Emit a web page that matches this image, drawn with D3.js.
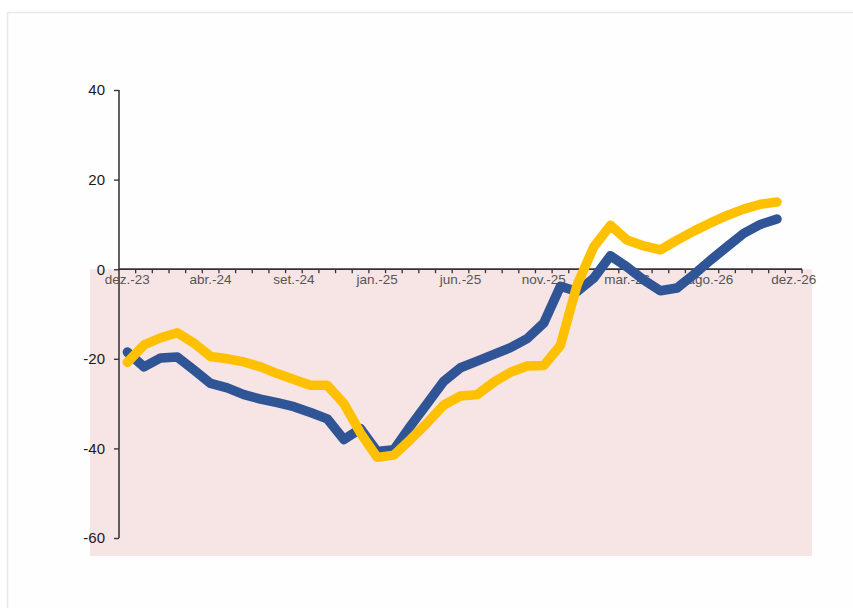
<!DOCTYPE html>
<html>
<head>
<meta charset="utf-8">
<script src="https://cdn.jsdelivr.net/npm/d3@7"></script>
<style>
  html, body { margin: 0; padding: 0; background: #ffffff; }
  svg { display: block; }
  text { font-family: "Liberation Sans", Arial, sans-serif; }
</style>
</head>
<body>
<svg id="chart" width="853" height="608"></svg>
<script>
// Period count on the category axis (one band per period)
const periodCount = 41;

// Labels shown under the axis, one every fifth period
const tickLabels = ["dez.-23", "abr.-24", "set.-24", "jan.-25", "jun.-25",
                    "nov.-25", "mar.-26", "ago.-26", "dez.-26"];
const labelStep = 5;

// Series values per period
const blueSeries = [-18.5, -21.8, -19.8, -19.6, -22.5, -25.5, -26.5, -28, -29, -29.8,
                    -30.7, -32, -33.4, -38, -35.6, -40.7, -40.3, -35, -30, -25,
                    -22, -20.5, -19, -17.5, -15.5, -12, -3.8, -5, -2, 3,
                    0.5, -2.4, -4.8, -4.2, -1.2, 2, 5, 8, 10, 11.2];
const yellowSeries = [-20.8, -16.9, -15.3, -14.2, -16.5, -19.5, -20, -20.7, -21.8, -23.3,
                      -24.6, -25.9, -25.9, -30, -36.6, -42, -41.5, -38, -34.3, -30.3,
                      -28.3, -28, -25.2, -23, -21.6, -21.5, -17, -3.5, 5, 9.8,
                      6.5, 5.2, 4.3, 6.5, 8.5, 10.3, 12, 13.4, 14.5, 15];

// Value axis
const yTicks = [40, 20, 0, -20, -40, -60];
const yDomain = [-60, 40];
// Shaded negative zone (value range)
const shadeRange = [0, -64];

const svg = d3.select("#chart");

// Outer frame of the chart object
svg.append("rect")
  .attr("x", 7.5).attr("y", 12.5)
  .attr("width", 900).attr("height", 700)
  .attr("fill", "#fefefe")
  .attr("stroke", "#e8e8e8")
  .attr("stroke-width", 1.5);

const plot = { left: 119, right: 802, top: 90, bottom: 538 };

const x = d3.scaleBand()
  .domain(d3.range(periodCount))
  .range([plot.left, plot.right])
  .paddingInner(0).paddingOuter(0);

const y = d3.scaleLinear()
  .domain(yDomain)
  .range([plot.bottom, plot.top]);

const cx = i => x(i) + x.bandwidth() / 2;

// Pink band under zero
svg.append("rect")
  .attr("x", plot.left - 29)
  .attr("y", y(shadeRange[0]))
  .attr("width", (plot.right + 10) - (plot.left - 29))
  .attr("height", y(shadeRange[1]) - y(shadeRange[0]))
  .attr("fill", "#f7e4e5");

// Y axis (plain hyphen for negatives)
const yAxis = d3.axisLeft(y)
  .tickValues(yTicks)
  .tickSize(5)
  .tickPadding(9)
  .tickFormat(d => String(d));

const yg = svg.append("g")
  .attr("transform", `translate(${plot.left},0)`)
  .call(yAxis);
yg.select(".domain")
  .attr("stroke", "#3a3a3a").attr("stroke-width", 1.6)
  .attr("d", `M0,${plot.top}V${plot.bottom}`);
yg.selectAll(".tick line").attr("stroke", "#3a3a3a").attr("stroke-width", 1.4);
yg.selectAll(".tick text")
  .attr("font-size", 15)
  .attr("fill", "#1a1a1a");

// X axis along zero with boundary ticks
const xg = svg.append("g").attr("transform", `translate(0,${y(0)})`);
xg.append("line")
  .attr("x1", plot.left).attr("x2", plot.right)
  .attr("stroke", "#333").attr("stroke-width", 1.8);
xg.selectAll("line.tk")
  .data(d3.range(1, periodCount + 1))
  .join("line")
  .attr("class", "tk")
  .attr("x1", i => x(i - 1) + x.bandwidth())
  .attr("x2", i => x(i - 1) + x.bandwidth())
  .attr("y1", 0).attr("y2", 4)
  .attr("stroke", "#333").attr("stroke-width", 1.3);
xg.selectAll("text.lbl")
  .data(tickLabels)
  .join("text")
  .attr("class", "lbl")
  .attr("x", (d, k) => cx(k * labelStep))
  .attr("y", 15)
  .attr("text-anchor", "middle")
  .attr("font-size", 13.5)
  .attr("fill", "#555")
  .text(d => d);

// Lines
const line = d3.line()
  .x((d, i) => cx(i))
  .y(d => y(d));

svg.append("path")
  .datum(blueSeries)
  .attr("d", line)
  .attr("fill", "none")
  .attr("stroke", "#2f5597")
  .attr("stroke-width", 9.5)
  .attr("stroke-linejoin", "round")
  .attr("stroke-linecap", "round");

svg.append("path")
  .datum(yellowSeries)
  .attr("d", line)
  .attr("fill", "none")
  .attr("stroke", "#ffc000")
  .attr("stroke-width", 9.5)
  .attr("stroke-linejoin", "round")
  .attr("stroke-linecap", "round");
</script>
</body>
</html>
